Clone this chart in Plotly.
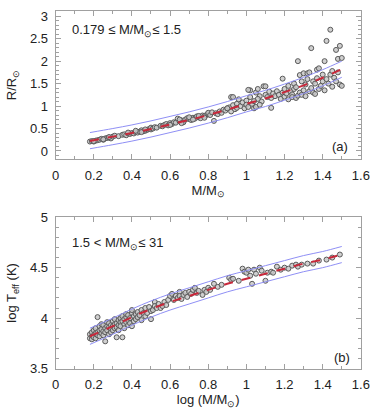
import plotly.graph_objects as go

# panel (a): radius vs mass, 0.179 <= M <= 1.5
mass_a = [
    0.18, 0.19, 0.20, 0.21, 0.22, 0.23, 0.24, 0.25, 0.26, 0.27, 0.28, 0.29, 0.30, 0.31, 0.33,
    0.35, 0.36, 0.37, 0.38, 0.39, 0.40, 0.41, 0.42, 0.43, 0.44, 0.45, 0.46, 0.47, 0.48, 0.49,
    0.50, 0.20, 0.25, 0.28, 0.38, 0.42, 0.45, 0.50, 0.47,
    0.51, 0.52, 0.53, 0.55, 0.56, 0.57, 0.58, 0.59, 0.60, 0.61, 0.62, 0.63, 0.64, 0.65, 0.66,
    0.67, 0.68, 0.69, 0.70, 0.71, 0.72, 0.73, 0.74, 0.75, 0.76, 0.77, 0.78, 0.79, 0.80,
    0.60, 0.65, 0.66, 0.70, 0.72, 0.75, 0.78, 0.80,
    0.81, 0.82, 0.83, 0.84, 0.85, 0.86, 0.87, 0.88, 0.89, 0.90, 0.91, 0.92, 0.92, 0.93, 0.94,
    0.95, 0.95, 0.96, 0.97, 0.98, 0.99, 1.00, 1.00, 1.01, 1.02, 1.02, 0.93, 1.01, 0.90,
    1.03, 1.04, 1.05, 1.05, 1.06, 1.07, 1.08, 1.09, 1.10, 1.13, 1.06, 1.07, 1.04,
    1.10, 1.11, 1.12, 1.13, 1.14, 1.15, 1.16, 1.17, 1.18, 1.19, 1.19, 1.20, 1.20, 1.21, 1.22,
    1.22, 1.23, 1.24, 1.24, 1.25, 1.25, 1.26, 1.26, 1.27, 1.27, 1.28, 1.28, 1.29, 1.29, 1.30,
    1.30, 1.31, 1.31, 1.32, 1.32, 1.33, 1.33, 1.34, 1.34, 1.35, 1.35, 1.36, 1.36, 1.37, 1.37,
    1.38, 1.38, 1.39, 1.40, 1.40, 1.41, 1.41, 1.42, 1.42, 1.43, 1.44, 1.44, 1.45, 1.45, 1.46,
    1.47, 1.47, 1.48, 1.48, 1.49, 1.49, 1.50, 1.50,
]
radius_a = [
    0.21, 0.22, 0.21, 0.23, 0.24, 0.25, 0.27, 0.25, 0.28, 0.29, 0.30, 0.28, 0.32, 0.34, 0.33,
    0.36, 0.37, 0.35, 0.39, 0.38, 0.40, 0.39, 0.42, 0.41, 0.43, 0.46, 0.44, 0.45, 0.47, 0.49,
    0.48, 0.22, 0.26, 0.31, 0.41, 0.45, 0.42, 0.52, 0.48,
    0.50, 0.53, 0.52, 0.56, 0.55, 0.58, 0.60, 0.57, 0.62, 0.60, 0.64, 0.63, 0.72, 0.66, 0.68,
    0.64, 0.70, 0.73, 0.71, 0.69, 0.74, 0.72, 0.77, 0.75, 0.73, 0.79, 0.78, 0.80, 0.82,
    0.58, 0.70, 0.62, 0.75, 0.70, 0.78, 0.74, 0.85,
    0.80, 0.86, 0.67, 0.84, 0.82, 0.88, 0.85, 0.92, 0.90, 0.95, 0.97, 1.20, 0.88, 1.02, 0.93,
    1.05, 0.96, 1.15, 1.00, 1.08, 0.95, 1.12, 1.03, 0.98, 1.35, 1.20, 1.20, 1.36, 0.95,
    1.05, 0.95, 1.30, 0.98, 1.38, 1.22, 1.10, 1.44, 1.44, 0.96, 1.16, 1.03, 1.11,
    1.25, 1.20, 1.32, 1.18, 1.28, 1.22, 1.33, 1.25, 1.16, 1.61, 1.30, 1.38, 1.21, 1.28, 1.15,
    1.45, 1.33, 1.26, 1.20, 1.50, 1.38, 1.18, 1.42, 2.00, 1.23, 1.69, 1.30, 1.55, 1.25, 1.73,
    1.35, 1.48, 1.22, 1.73, 1.60, 1.75, 1.33, 2.29, 1.40, 1.30, 1.55, 1.50, 1.27, 1.81, 1.62,
    1.84, 1.38, 1.45, 1.70, 1.55, 2.00, 1.35, 2.45, 1.60, 1.50, 2.70, 1.70, 1.43, 1.78, 1.63,
    2.25, 1.55, 2.05, 1.75, 2.34, 1.48, 2.07, 1.45,
]
fit_m_a = [0.18, 0.3, 0.4, 0.5, 0.6, 0.7, 0.8, 0.9, 1.0, 1.1, 1.2, 1.3, 1.4, 1.5]
fit_r_a = [0.22, 0.32, 0.40, 0.49, 0.59, 0.69, 0.80, 0.92, 1.05, 1.17, 1.31, 1.46, 1.63, 1.82]
upper_r_a = [0.41, 0.50, 0.58, 0.67, 0.77, 0.87, 0.98, 1.10, 1.23, 1.35, 1.49, 1.64, 1.81, 2.00]
lower_r_a = [0.05, 0.14, 0.22, 0.31, 0.41, 0.51, 0.62, 0.74, 0.87, 0.99, 1.13, 1.28, 1.45, 1.64]

# panel (b): log Teff vs log mass, 1.5 < M <= 31
logm_b = [
    0.18, 0.18, 0.19, 0.19, 0.19, 0.20, 0.20, 0.20, 0.21, 0.21, 0.21, 0.22, 0.22, 0.22, 0.23,
    0.23, 0.23, 0.24, 0.24, 0.24, 0.25, 0.25, 0.25, 0.26, 0.26, 0.26, 0.27, 0.27, 0.27, 0.28,
    0.28, 0.28, 0.29, 0.29, 0.29, 0.30, 0.30, 0.30, 0.31, 0.31, 0.31, 0.32, 0.32, 0.32, 0.33,
    0.33, 0.33, 0.34, 0.34, 0.34, 0.35, 0.35, 0.35, 0.36, 0.36, 0.36, 0.37, 0.37, 0.37, 0.38,
    0.38, 0.38, 0.39, 0.39, 0.40, 0.40, 0.40, 0.41, 0.41, 0.42, 0.42, 0.43, 0.43, 0.44, 0.45,
    0.45, 0.46, 0.47, 0.47, 0.48, 0.49, 0.50, 0.50, 0.51, 0.52, 0.52, 0.53, 0.54, 0.55, 0.56,
    0.57, 0.58, 0.59, 0.60, 0.61, 0.62, 0.63, 0.64, 0.65, 0.65, 0.66, 0.67, 0.68, 0.69, 0.70,
    0.71, 0.72, 0.73, 0.74, 0.75, 0.77, 0.78, 0.79, 0.80, 0.81, 0.83, 0.85, 0.87, 0.91, 0.92,
    0.93, 0.96, 0.98, 0.99, 1.00, 1.01, 1.02, 1.03, 1.04, 1.05, 1.07, 1.08, 1.10, 1.11, 1.13,
    1.14, 1.16, 1.18, 1.20, 1.22, 1.24, 1.26, 1.27, 1.29, 1.32, 1.35, 1.38, 1.42, 1.45, 1.49,
]
logt_b = [
    3.80, 3.84, 3.82, 3.86, 3.79, 3.83, 3.88, 3.81, 3.85, 3.90, 3.80, 4.01, 3.86, 3.83, 3.88,
    3.92, 3.82, 3.85, 3.94, 3.89, 3.87, 3.93, 3.83, 3.77, 3.90, 3.86, 3.92, 3.88, 3.96, 3.84,
    3.91, 3.95, 3.89, 3.93, 3.86, 3.97, 3.92, 3.88, 3.94, 3.90, 3.99, 3.81, 3.95, 3.91, 3.98,
    3.93, 3.88, 3.96, 4.00, 3.92, 3.81, 3.97, 4.02, 3.94, 3.99, 3.90, 4.01, 3.96, 4.04, 3.98,
    3.93, 4.03, 4.00, 3.95, 4.05, 3.92, 4.08, 4.02, 3.97, 4.04, 3.99, 4.06, 4.01, 4.03, 4.08,
    3.98, 4.05, 4.10, 4.02, 4.05, 4.11, 3.99, 4.07, 4.08, 4.16, 4.12, 4.10, 4.14, 4.10, 4.12,
    4.16, 4.13, 4.18, 4.22, 4.24, 4.18, 4.22, 4.20, 4.26, 4.22, 4.19, 4.23, 4.25, 4.21, 4.26,
    4.24, 4.28, 4.30, 4.25, 4.27, 4.23, 4.28, 4.26, 4.30, 4.28, 4.34, 4.31, 4.33, 4.40, 4.38,
    4.39, 4.37, 4.49, 4.46, 4.45, 4.48, 4.42, 4.34, 4.48, 4.44, 4.50, 4.47, 4.37, 4.45, 4.46,
    4.45, 4.51, 4.48, 4.50, 4.49, 4.52, 4.53, 4.51, 4.53, 4.54, 4.54, 4.57, 4.58, 4.60, 4.63,
]
fit_m_b = [0.18, 0.3, 0.4, 0.5, 0.6, 0.7, 0.8, 0.9, 1.0, 1.1, 1.2, 1.3, 1.4, 1.5]
fit_t_b = [3.82, 3.92, 4.01, 4.09, 4.16, 4.22, 4.28, 4.34, 4.39, 4.44, 4.49, 4.54, 4.58, 4.63]
upper_t_b = [3.90, 4.00, 4.09, 4.17, 4.24, 4.30, 4.36, 4.42, 4.47, 4.52, 4.57, 4.62, 4.66, 4.71]
lower_t_b = [3.74, 3.84, 3.93, 4.01, 4.08, 4.14, 4.20, 4.26, 4.31, 4.36, 4.41, 4.46, 4.50, 4.55]

FONT = "Liberation Sans, Arial, sans-serif"
SUN = "\u2299"

fig = go.Figure()


def add_panel(xs, ys, fx, fy, up, lo, xa, ya):
    fig.add_trace(go.Scatter(
        x=xs, y=ys, mode="markers", xaxis=xa, yaxis=ya,
        marker=dict(size=5, color="rgba(200,200,200,0.85)",
                    line=dict(color="#5a5a5a", width=1)),
    ))
    for yy in (up, lo):
        fig.add_trace(go.Scatter(
            x=fx, y=yy, mode="lines", xaxis=xa, yaxis=ya, line_shape="spline",
            line=dict(color="#8f8ff5", width=1),
        ))
    fig.add_trace(go.Scatter(
        x=fx, y=fy, mode="lines", xaxis=xa, yaxis=ya, line_shape="spline",
        line=dict(color="#c8283a", width=2, dash="dash"),
    ))


add_panel(mass_a, radius_a, fit_m_a, fit_r_a, upper_r_a, lower_r_a, "x", "y")
add_panel(logm_b, logt_b, fit_m_b, fit_t_b, upper_t_b, lower_t_b, "x2", "y2")

axis_common = dict(
    showline=True, linecolor="#a0a0a0", linewidth=1, mirror="allticks",
    ticks="inside", ticklen=5, tickcolor="#a0a0a0", showgrid=False, zeroline=False,
    tickfont=dict(family=FONT, size=13, color="#222222"),
    title_font=dict(family=FONT, size=13, color="#222222"),
)
x_common = dict(axis_common, range=[0, 1.6], dtick=0.2, domain=[0.141, 0.975],
                ticklabelstandoff=4,
                minor=dict(ticks="inside", ticklen=3, dtick=0.1, tickcolor="#a0a0a0"))
y_minor = dict(ticks="inside", ticklen=3, dtick=0.1, tickcolor="#a0a0a0")

fig.update_layout(
    width=379, height=419, autosize=False,
    margin=dict(l=0, r=0, t=0, b=0),
    paper_bgcolor="white", plot_bgcolor="white", showlegend=False,
    xaxis=dict(x_common, anchor="y", title=dict(text=f"M/M<sub>{SUN}</sub>", standoff=3)),
    yaxis=dict(axis_common, range=[-0.18, 3.12], dtick=0.5, domain=[0.6236, 0.9905],
               anchor="x", minor=y_minor, ticklabelstandoff=4,
               title=dict(text=f"R/R<sub>{SUN}</sub>", standoff=10)),
    xaxis2=dict(x_common, anchor="y2",
                title=dict(text=f"log (M/M<sub>{SUN}</sub>)", standoff=3)),
    yaxis2=dict(axis_common, range=[3.5, 5.0], dtick=0.5, domain=[0.105, 0.4797],
                anchor="x2", minor=y_minor, ticklabelstandoff=4,
                title=dict(text="log T<sub>eff</sub> (K)", standoff=10)),
)

ann_font = dict(family=FONT, size=13, color="#222222")
fig.add_annotation(text=f"0.179 \u2264 M/M<sub>{SUN}</sub>\u2264 1.5", xref="paper", yref="paper",
                   x=68 / 379, y=1 - 24 / 419, xanchor="left", yanchor="middle",
                   showarrow=False, font=ann_font)
fig.add_annotation(text=f"1.5 < M/M<sub>{SUN}</sub>\u2264 31", xref="paper", yref="paper",
                   x=68 / 379, y=1 - 245 / 419, xanchor="left", yanchor="middle",
                   showarrow=False, font=ann_font)
fig.add_annotation(text="(a)", xref="paper", yref="paper", x=358 / 379, y=1 - 145 / 419,
                   xanchor="right", yanchor="middle", showarrow=False, font=ann_font)
fig.add_annotation(text="(b)", xref="paper", yref="paper", x=360 / 379, y=1 - 363 / 419,
                   xanchor="right", yanchor="middle", showarrow=False, font=ann_font)

# the page body has a default 8px margin; drop it so the figure sits at the window origin
fig.write_html("out.html", config={"displayModeBar": False},
               post_script="document.body.style.margin='0px';")
